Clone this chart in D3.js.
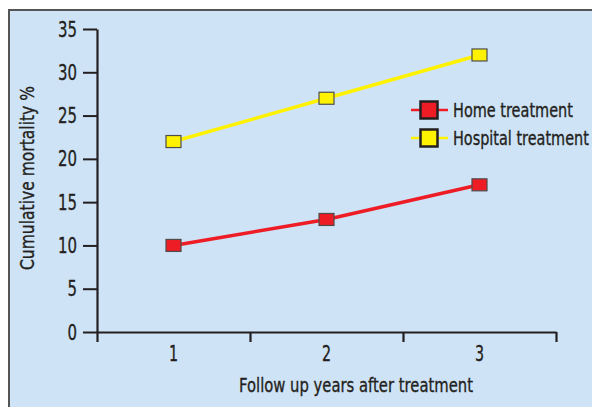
<!DOCTYPE html>
<html>
<head>
<meta charset="utf-8">
<script src="https://cdn.jsdelivr.net/npm/d3@7/dist/d3.min.js"></script>
<style>
  html, body { margin: 0; padding: 0; background: #ffffff; }
  svg { display: block; }
  text { font-family: "DejaVu Sans", sans-serif; fill: #231f20; stroke: #231f20; stroke-width: 0.35px; }
</style>
</head>
<body>
<svg id="chart" width="592" height="407"></svg>
<script>
// Follow-up years and cumulative mortality (%) per treatment setting
const years = ["1", "2", "3"];
const homeMortality = [10, 13, 17];
const hospitalMortality = [22, 27, 32];
const yTicks = [0, 5, 10, 15, 20, 25, 30, 35];
const seriesNames = ["Home treatment", "Hospital treatment"];
const seriesColors = ["#ee1c25", "#fff200"];

const svg = d3.select("#chart");
const W = 592, H = 407;
const plot = { left: 97, right: 556, top: 29, bottom: 332 };

// Squeeze a text horizontally to mimic a condensed face
function condense(sel, factor) {
  sel.each(function () {
    const len = this.getComputedTextLength();
    d3.select(this).attr("textLength", len * factor).attr("lengthAdjust", "spacingAndGlyphs");
  });
}
function fitWidth(sel, width) {
  sel.attr("textLength", width).attr("lengthAdjust", "spacingAndGlyphs");
}

// Panel background with frame on the top and left edges
svg.append("rect")
  .attr("x", 9).attr("y", 10).attr("width", W - 9).attr("height", H - 10)
  .attr("fill", "#cfe3f6");
svg.append("path")
  .attr("d", `M9,${H} V10 H${W}`)
  .attr("fill", "none").attr("stroke", "#555555").attr("stroke-width", 2);

const x = d3.scaleBand().domain(years).range([plot.left, plot.right]);
const xEdges = d3.scaleLinear().domain([0, years.length]).range([plot.left, plot.right]);
const y = d3.scaleLinear().domain([0, 35]).range([plot.bottom, plot.top]);

// Y axis
const yAxis = svg.append("g")
  .attr("transform", `translate(${plot.left},0)`)
  .call(d3.axisLeft(y).tickValues(yTicks).tickSize(14).tickSizeOuter(0).tickPadding(6));
yAxis.select(".domain").attr("stroke", "#231f20").attr("stroke-width", 2.2);
yAxis.selectAll(".tick line").attr("stroke", "#231f20").attr("stroke-width", 2);
yAxis.selectAll(".tick text").attr("font-size", 22).attr("font-family", null).attr("fill", "#231f20")
  .call(condense, 0.68);

// X axis: ticks at band edges, labels at band centres
const xTickAxis = svg.append("g")
  .attr("transform", `translate(0,${plot.bottom})`)
  .call(d3.axisBottom(xEdges).tickValues(d3.range(years.length + 1)).tickFormat("").tickSize(10).tickSizeOuter(0));
xTickAxis.select(".domain").attr("stroke", "#231f20").attr("stroke-width", 2.2);
xTickAxis.selectAll(".tick line").attr("stroke", "#231f20").attr("stroke-width", 2.2);

const xLabelAxis = svg.append("g")
  .attr("transform", `translate(0,${plot.bottom})`)
  .call(d3.axisBottom(x).tickSize(0).tickPadding(14));
xLabelAxis.select(".domain").remove();
xLabelAxis.selectAll(".tick text").attr("font-size", 21).attr("font-family", null).attr("fill", "#231f20")
  .call(condense, 0.68);

// Axis titles
svg.append("text")
  .attr("x", 356).attr("y", 392)
  .attr("text-anchor", "middle").attr("font-size", 20)
  .text("Follow up years after treatment")
  .call(fitWidth, 234);
svg.append("text")
  .attr("transform", "translate(34,178) rotate(-90)")
  .attr("text-anchor", "middle").attr("font-size", 20)
  .text("Cumulative mortality %")
  .call(fitWidth, 184);

// Series lines and markers
const series = [homeMortality, hospitalMortality];
const line = d3.line().x((d, i) => x(years[i]) + x.bandwidth() / 2).y(d => y(d));
series.forEach((vals, s) => {
  svg.append("path")
    .attr("d", line(vals))
    .attr("fill", "none").attr("stroke", seriesColors[s]).attr("stroke-width", 3.5);
  svg.selectAll(null).data(vals).enter().append("rect")
    .attr("x", (d, i) => x(years[i]) + x.bandwidth() / 2 - 7.5)
    .attr("y", d => y(d) - 6)
    .attr("width", 15).attr("height", 12)
    .attr("fill", seriesColors[s]).attr("stroke", "#4d4d4d").attr("stroke-width", 1.2);
});

// Legend (labels narrowed with a horizontal scale so their boxes stay inside the panel)
const legendWidths = [120, 136];
const legend = svg.append("g");
seriesNames.forEach((name, s) => {
  const cy = 110 + s * 28;
  legend.append("line")
    .attr("x1", 411).attr("x2", 448).attr("y1", cy).attr("y2", cy)
    .attr("stroke", seriesColors[s]).attr("stroke-width", 2.5);
  legend.append("rect")
    .attr("x", 420.5).attr("y", cy - 8.5).attr("width", 17).attr("height", 17)
    .attr("fill", seriesColors[s]).attr("stroke", "#231f20").attr("stroke-width", 2.5);
  const t = legend.append("text")
    .attr("x", 0).attr("y", 0).attr("font-size", 19)
    .text(name);
  const k = legendWidths[s] / t.node().getComputedTextLength();
  t.attr("transform", `translate(453,${cy + 7}) scale(${k},1)`);
});
</script>
</body>
</html>
